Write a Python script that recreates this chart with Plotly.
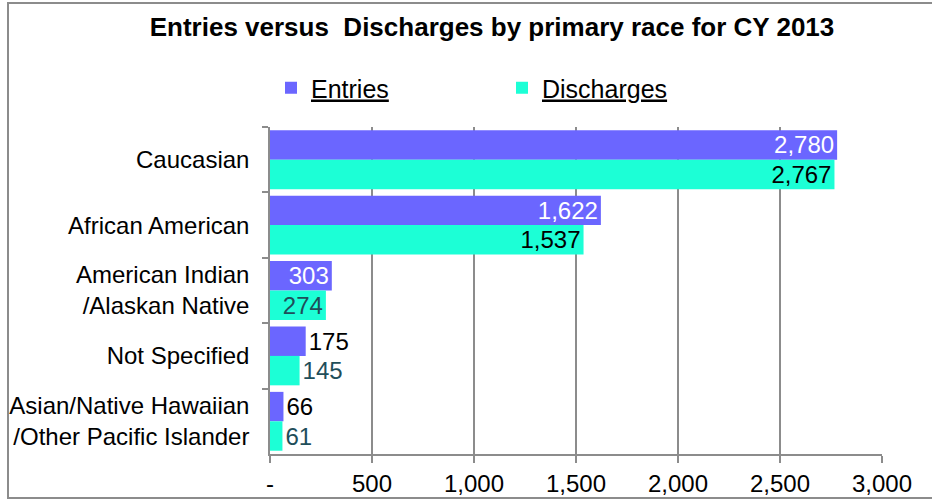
import plotly.graph_objects as go

categories = ["Caucasian", "African American", "American Indian<br>/Alaskan Native",
              "Not Specified", "Asian/Native Hawaiian<br>/Other Pacific Islander"]
entries = [2780, 1622, 303, 175, 66]
discharges = [2767, 1537, 274, 145, 61]
x_tickvals = [0, 500, 1000, 1500, 2000, 2500, 3000]
x_ticktext = ["-", "500", "1,000", "1,500", "2,000", "2,500", "3,000"]

FONT = "Liberation Sans, Arial, sans-serif"
W, H = 932, 502
L, R, T, B = 270, 50, 127, 48

def fmt(v):
    return f"{v:,}"

ent_pos = ["inside" if v > 250 else "outside" for v in entries]
dis_pos = ["inside" if v > 250 else "outside" for v in discharges]
ent_col = ["white" if v > 250 else "black" for v in entries]
dis_col = ["black" if v > 1000 else "#1F4E5A" for v in discharges]

fig = go.Figure()
fig.add_trace(go.Bar(
    y=categories, x=entries, orientation="h", name="<u>Entries</u>",
    marker=dict(color="#6B66FF", line=dict(width=0)),
    text=[fmt(v) for v in entries], textposition=ent_pos,
    insidetextanchor="end", constraintext="none",
    textfont=dict(size=24, color=ent_col, family=FONT),
    cliponaxis=False,
))
fig.add_trace(go.Bar(
    y=categories, x=discharges, orientation="h", name="<u>Discharges</u>",
    marker=dict(color="#1CFFD6", line=dict(width=0)),
    text=[fmt(v) for v in discharges], textposition=dis_pos,
    insidetextanchor="end", constraintext="none",
    textfont=dict(size=24, color=dis_col, family=FONT),
    cliponaxis=False,
))

pw = W - L - R
ph = H - T - B
fig.add_shape(type="rect", xref="paper", yref="paper",
              x0=(8 - L) / pw, x1=(945 - L) / pw,
              y0=(H - B - 498) / ph, y1=(H - B - 3) / ph,
              line=dict(color="#8C8C8C", width=2), fillcolor="rgba(0,0,0,0)", layer="below")

fig.update_layout(
    template="none",
    width=W, height=H, autosize=False,
    margin=dict(l=L, r=R, t=T, b=B, pad=0),
    paper_bgcolor="white", plot_bgcolor="white",
    barmode="group", bargap=0.1, bargroupgap=0,
    font=dict(family=FONT, size=24, color="black"),
    title=dict(text="<b>Entries versus  Discharges by primary race for CY 2013</b>",
               x=492 / W, xanchor="center", y=1 - 27 / H, yanchor="middle",
               font=dict(size=26, family=FONT, color="black")),
    legend=dict(orientation="h", xref="container", yref="container",
                x=271 / W, xanchor="left", y=1 - 88 / H, yanchor="middle",
                font=dict(size=25, family=FONT), entrywidth=186,
                traceorder="normal", bgcolor="rgba(0,0,0,0)"),
    showlegend=True,
)
fig.update_xaxes(range=[0, 3000], tickvals=x_tickvals, ticktext=x_ticktext, automargin=False,
                 showgrid=True, gridcolor="#8C8C8C", gridwidth=1.5,
                 showline=True, linecolor="#8C8C8C", linewidth=1.5,
                 ticks="outside", ticklen=7, tickcolor="#8C8C8C", tickwidth=1.5,
                 tickfont=dict(size=24, family=FONT), zeroline=False)
fig.update_yaxes(autorange="reversed", automargin=False, showline=True, linecolor="#8C8C8C", linewidth=1.5,
                 ticks="outside", tickson="boundaries", ticklen=6, tickcolor="#8C8C8C",
                 tickwidth=1.5, tickfont=dict(size=24, family=FONT), ticklabelstandoff=14,
                 showgrid=False, zeroline=False)

fig.write_html("out.html", config={"displayModeBar": False},
               post_script="document.body.style.margin='0';")
